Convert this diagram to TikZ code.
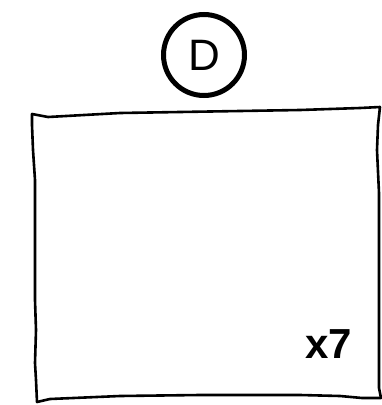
\documentclass[tikz,border=0pt]{standalone}
\usepackage{fontspec}
\setmainfont{Liberation Sans}
\usetikzlibrary{positioning}

\begin{document}
\begin{tikzpicture}[x=1pt, y=-1pt]
  \useasboundingbox (0,0) rectangle (382,405);
  % Label circle
  \node[circle, draw, line width=5pt, minimum size=81pt, inner sep=0pt, font=\fontsize{44}{44}\selectfont] (dlabel) at (204,55) {D};
  % Sketchy box
  \draw[line width=2.6pt, line join=round, line cap=round]
    (32,114) -- (48,117) -- (120,113) -- (300,110) -- (360,108) -- (380,107)
    -- (378,125) -- (377,150) -- (379,193) -- (379,300) -- (379,388) -- (381,398)
    -- (362,398) -- (340,396) -- (300,395) -- (200,395) -- (120,396) -- (50,399) -- (37,402)
    -- (36,380) -- (35,363) -- (36,330) -- (35,300) -- (35,180) -- (33,150) -- (32,125) -- cycle;
  % Count
  \node[font=\bfseries\fontsize{42}{42}\selectfont, anchor=base east, inner sep=0pt] (count) at (352,358) {x7};
\end{tikzpicture}
\end{document}
